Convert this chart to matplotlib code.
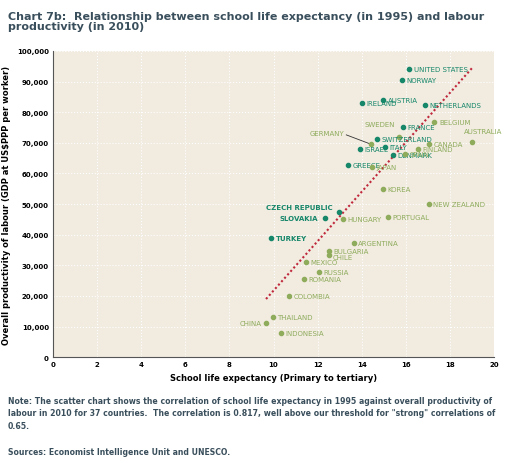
import matplotlib.pyplot as plt
import numpy as np

# Data: school life expectancy (years) vs GDP per worker ($ PPP)
countries = ["UNITED STATES", "NORWAY", "IRELAND", "AUSTRIA", "NETHERLANDS", "BELGIUM",
             "FRANCE", "SWEDEN", "AUSTRALIA", "CANADA", "SWITZERLAND", "GERMANY", "ISRAEL",
             "ITALY", "FINLAND", "DENMARK", "SPAIN", "GREECE", "JAPAN", "KOREA",
             "NEW ZEALAND", "CZECH REPUBLIC", "SLOVAKIA", "HUNGARY", "PORTUGAL", "TURKEY",
             "ARGENTINA", "BULGARIA", "CHILE", "MEXICO", "RUSSIA", "ROMANIA", "COLOMBIA",
             "THAILAND", "CHINA", "INDONESIA"]
school = [16.15, 15.83, 14.0, 14.97, 16.87, 17.3, 15.87, 15.7, 19.0, 17.05, 14.7, 14.4, 13.9,
          15.05, 16.55, 15.4, 15.96, 13.4, 14.47, 14.97, 17.05, 12.97, 12.33, 13.15, 15.2,
          9.89, 13.65, 12.5, 12.5, 11.47, 12.06, 11.38, 10.7, 9.98, 9.66, 10.34]
gdp = [94000, 90500, 83000, 84000, 82400, 76800, 75200, 72000, 70300, 69600, 71200, 69600,
       68000, 68600, 68000, 66000, 66300, 62700, 62000, 55000, 50000, 47400, 45400, 45100,
       45800, 38900, 37300, 34600, 33300, 31000, 27800, 25500, 19900, 13000, 11100, 7800]
dark = {"UNITED STATES", "NORWAY", "IRELAND", "AUSTRIA", "NETHERLANDS", "FRANCE",
        "SWITZERLAND", "ISRAEL", "ITALY", "DENMARK", "GREECE", "CZECH REPUBLIC",
        "SLOVAKIA", "TURKEY"}
trend_x = [9.66, 19.0]
trend_y = [19000, 94400]

DARK = "#17876a"
LIGHT = "#8fac5c"

fig = plt.figure(figsize=(5.25, 4.64), dpi=100)
fig.patch.set_facecolor("white")
ax = fig.add_axes([0.101, 0.228, 0.84, 0.66])
ax.set_facecolor("#f1ebe0")

for c, x, y in zip(countries, school, gdp):
    col = DARK if c in dark else LIGHT
    ax.scatter(x, y, s=9, color=col, zorder=3)
    if c == "CHINA":
        ax.text(x - 0.2, y, c, color=col, fontsize=5, ha="right", va="center")
    elif c in ("CZECH REPUBLIC", "SLOVAKIA"):
        dy = 1800 if c == "CZECH REPUBLIC" else 0
        ax.text(x - 0.3, y + dy, c, color=col, fontsize=5, ha="right", va="center",
                fontweight="bold")
    elif c == "GERMANY":
        ax.plot([x, x - 1.1], [y, y + 3000], color="#333333", lw=0.6, zorder=2)
        ax.text(x - 1.2, y + 3500, c, color=col, fontsize=5, ha="right", va="center")
    elif c == "SWEDEN":
        ax.text(x - 0.2, y + 4000, c, color=col, fontsize=5, ha="right", va="center")
    elif c == "AUSTRALIA":
        ax.text(x + 0.5, y + 3500, c, color=col, fontsize=5, ha="center", va="center")
    elif c == "CHILE":
        ax.text(x + 0.2, y - 600, c, color=col, fontsize=5, ha="left", va="center")
    else:
        w = "bold" if c == "TURKEY" else "normal"
        ax.text(x + 0.2, y, c, color=col, fontsize=5, ha="left", va="center", fontweight=w)

ax.plot(trend_x, trend_y, color="#c0283c", ls=(0, (1, 1.2)), lw=1.5, zorder=2)

ax.set_xlim(0, 20)
ax.set_ylim(0, 100000)
ax.set_xticks(np.arange(0, 21, 2))
ax.set_yticks(np.arange(0, 100001, 10000))
ax.set_yticklabels([f"{v:,}" for v in range(0, 100001, 10000)])
ax.tick_params(labelsize=5, length=0, pad=3)
for lab in ax.get_xticklabels() + ax.get_yticklabels():
    lab.set_fontweight("bold")
ax.grid(color="white", ls=":", lw=0.8)
ax.set_axisbelow(True)
for s in ["top", "right"]:
    ax.spines[s].set_visible(False)
ax.spines["left"].set_color("#555555")
ax.spines["bottom"].set_color("#555555")
ax.set_xlabel("School life expectancy (Primary to tertiary)", fontsize=6, fontweight="bold")
ax.set_ylabel("Overall productivity of labour (GDP at US$PPP per worker)", fontsize=6,
              fontweight="bold")

fig.text(0.015, 0.975, "Chart 7b:  Relationship between school life expectancy (in 1995) and labour\nproductivity (in 2010)",
         fontsize=8, fontweight="bold", color="#3a4f5c", va="top", linespacing=1.1)
fig.text(0.015, 0.145, "Note: The scatter chart shows the correlation of school life expectancy in 1995 against overall productivity of\n"
         "labour in 2010 for 37 countries.  The correlation is 0.817, well above our threshold for \"strong\" correlations of\n0.65.",
         fontsize=5.6, fontweight="bold", color="#3a4f5c", va="top", linespacing=1.5)
fig.text(0.015, 0.035, "Sources: Economist Intelligence Unit and UNESCO.", fontsize=5.6,
         fontweight="bold", color="#3a4f5c", va="top")

fig.savefig("out.png", dpi=100)
